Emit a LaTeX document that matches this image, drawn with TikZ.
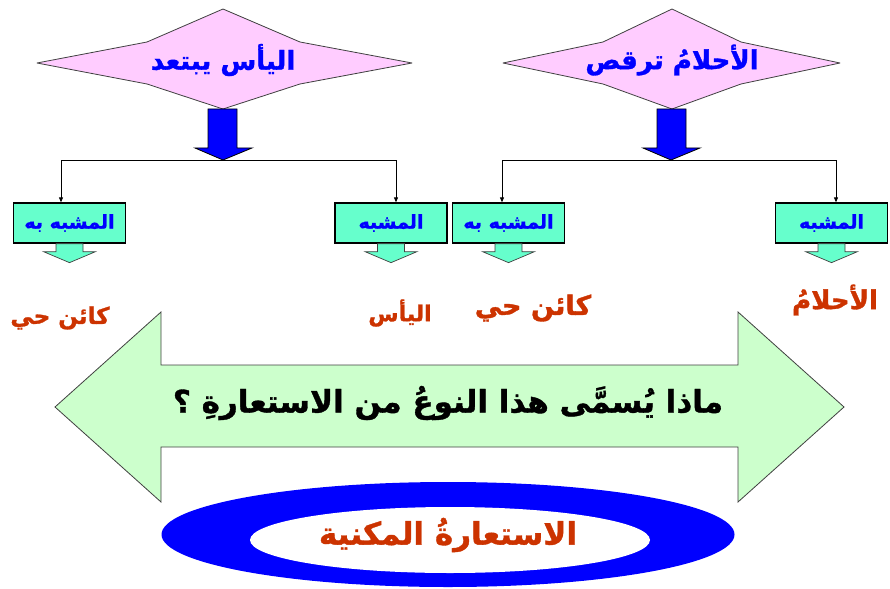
\documentclass[tikz,border=0pt]{standalone}
\usepackage{fontspec}
\usetikzlibrary{arrows.meta}
\newfontfamily\arabicfont[Script=Arabic,BoldFeatures={FakeBold=1.2}]{DejaVu Sans}
\TeXXeTstate=1
\definecolor{kitepink}{HTML}{FFCCFF}
\definecolor{boxaqua}{HTML}{66FFCC}
\definecolor{paleleaf}{HTML}{CCFFCC}
\definecolor{deepblue}{HTML}{0000FF}
\definecolor{rust}{HTML}{CC3300}
\definecolor{edgegray}{HTML}{404040}
\begin{document}
\begin{tikzpicture}[x=1pt,y=-1pt,
  kite/.style={fill=kitepink,draw=edgegray,line width=0.8pt,line join=round},
  downarrow/.style={fill=deepblue,draw=black,line width=0.8pt},
  stembox/.style={draw=black,fill=boxaqua,line width=1.3pt,minimum width=112pt,minimum height=40pt,inner sep=0pt,
    font=\arabicfont\bfseries\fontsize{19}{22}\selectfont,text=deepblue},
  pointer/.style={fill=boxaqua,draw=edgegray,line width=0.7pt},
  branch/.style={draw=black,line width=0.8pt,-{Triangle[length=5pt,width=4pt]}},
  kitetext/.style={font=\arabicfont\bfseries\fontsize{26}{30}\selectfont,text=deepblue},
  tag/.style={font=\arabicfont\bfseries\fontsize{#1}{#1}\selectfont,text=rust},
]
\useasboundingbox (0,0) rectangle (890,588);

% ---- left kite: the despair sentence
\path[kite] (37,63) -- (147,42) -- (223,9) -- (300,42) -- (412,63) -- (300,84) -- (223,109) -- (147,84) -- cycle;
\node[kitetext] (kiteL) at (223,60) {\beginR اليأس يبتعد\endR};
\path[downarrow] (208,109) -- (237,109) -- (237,148) -- (252,148) -- (223,160) -- (195,148) -- (208,148) -- cycle;
\coordinate (forkL) at (223,160);

% ---- right kite: the dreams sentence
\path[kite] (503,63) -- (603,42) -- (672,9) -- (741,42) -- (840,63) -- (741,84) -- (672,109) -- (603,84) -- cycle;
\node[kitetext] (kiteR) at (672,60) {\beginR الأحلامُ ترقص\endR};
\path[downarrow] (657,109) -- (686,109) -- (686,148) -- (700,148) -- (671,160) -- (643,148) -- (657,148) -- cycle;
\coordinate (forkR) at (671,160);

% ---- boxes
\node[stembox] (boxA) at (69.5,223) {\beginR المشبه به\endR};
\node[stembox] (boxB) at (391,223) {\beginR المشبه\endR};
\node[stembox] (boxC) at (508.5,223) {\beginR المشبه به\endR};
\node[stembox] (boxD) at (831.5,223) {\beginR المشبه\endR};

% ---- branches from each blue arrow
\draw[branch] (forkL) -| ([xshift=-8.5pt]boxA.north);
\draw[branch] (forkL) -| ([xshift=5pt]boxB.north);
\draw[branch] (forkR) -| ([xshift=-6.5pt]boxC.north);
\draw[branch] (forkR) -| ([xshift=4.5pt]boxD.north);

% ---- small pointers under the boxes (shifts are in page units, so down is negative)
\foreach \b in {boxA,boxB,boxC,boxD}{
  \path[pointer] ([xshift=-13.5pt]\b.south) -- ([xshift=-13.5pt,yshift=-8pt]\b.south)
    -- ([xshift=-26pt,yshift=-8pt]\b.south) -- ([yshift=-19pt]\b.south)
    -- ([xshift=26pt,yshift=-8pt]\b.south) -- ([xshift=13.5pt,yshift=-8pt]\b.south)
    -- ([xshift=13.5pt]\b.south) -- cycle;
}

% ---- orange answers
\node[tag=23] (ansA) at (60,318) {\beginR كائن حي\endR};
\node[tag=22] (ansB) at (400,313) {\beginR اليأس\endR};
\node[tag=27] (ansC) at (533,308) {\beginR كائن حي\endR};
\node[tag=26] (ansD) at (835,300) {\beginR الأحلامُ\endR};

% ---- big double arrow with the question
\path[fill=paleleaf,draw=edgegray,line width=0.8pt,line join=miter]
  (55,407) -- (161,312) -- (161,365) -- (738,365) -- (738,312) -- (844,407)
  -- (738,502) -- (738,447) -- (161,447) -- (161,502) -- cycle;
\node[font=\arabicfont\bfseries\fontsize{31}{36}\selectfont,text=black] (question) at (448,403)
  {\beginR ماذا يُسمَّى هذا النوعُ من الاستعارةِ ؟\endR};

% ---- answer ring
\fill[deepblue] (448,534.5) ellipse [x radius=286.5, y radius=52.5];
\fill[white] (450,540) ellipse [x radius=200, y radius=33];
\node[tag=31] (answer) at (448,535) {\beginR الاستعارةُ المكنية\endR};
\end{tikzpicture}
\end{document}
